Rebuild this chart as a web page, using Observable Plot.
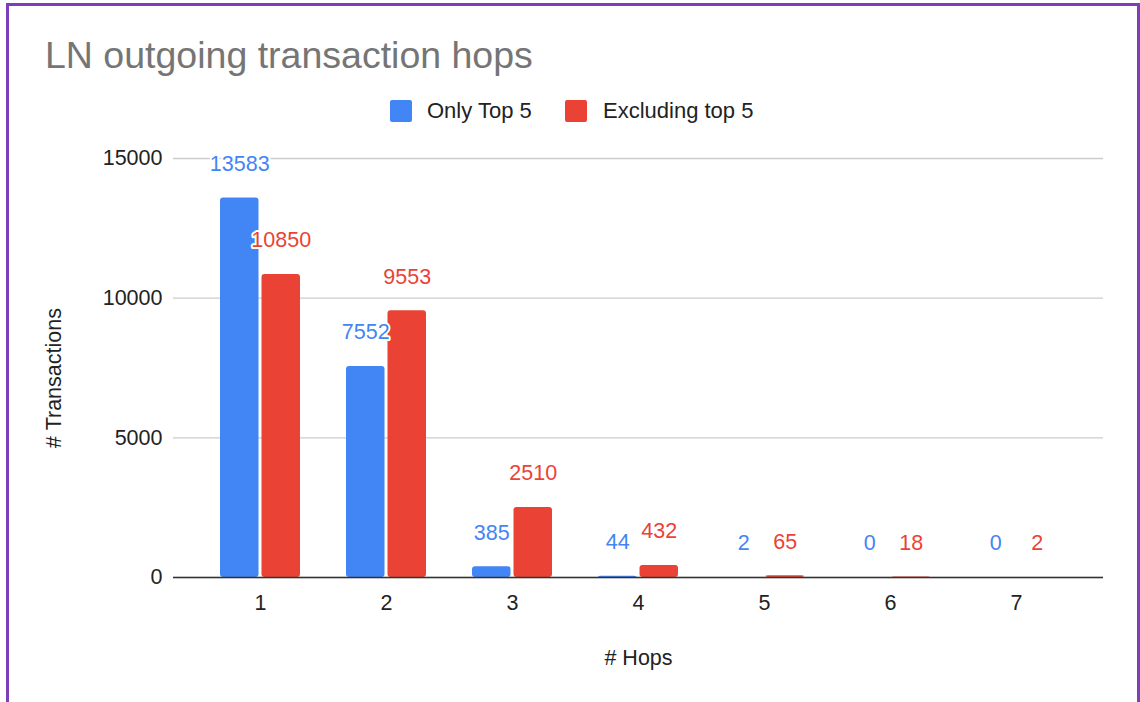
<!DOCTYPE html>
<html><head><meta charset="utf-8">
<script src="https://cdn.jsdelivr.net/npm/d3@7"></script>
<script src="https://cdn.jsdelivr.net/npm/@observablehq/plot@0.6"></script>
<style>
body{margin:0;background:#fff;font-family:"Liberation Sans",Arial,sans-serif;}
#wrap{position:relative;width:1140px;height:702px;overflow:hidden;background:#fff;}
#border{position:absolute;left:6px;top:3px;width:1128px;height:800px;border:3px solid #7c3fb8;box-sizing:content-box;}
#title{position:absolute;left:45px;top:37px;font-size:37.5px;line-height:37.5px;color:#757575;white-space:nowrap;}
.sw{position:absolute;top:100px;width:22px;height:22px;border-radius:2px;}
.lt{position:absolute;top:100px;height:22px;line-height:22px;font-size:22px;color:#222;white-space:nowrap;}
#chart{position:absolute;left:0;top:135px;}
</style>
</head><body>
<div id="wrap">
  <div id="border"></div>
  <div id="title"></div>
  <div id="legend"></div>
  <div id="chart"></div>
</div>
<script>
const chartTitle = "LN outgoing transaction hops";
const hops = ["1","2","3","4","5","6","7"];
const onlyTop5 = [13583, 7552, 385, 44, 2, 0, 0];
const excludingTop5 = [10850, 9553, 2510, 432, 65, 18, 2];
const seriesNames = ["Only Top 5", "Excluding top 5"];
const seriesColors = ["#4285F4", "#EA4335"];
const yTicks = [0, 5000, 10000, 15000];
const xLabel = "# Hops";
const yLabel = "# Transactions";

document.getElementById("title").textContent = chartTitle;
const legend = document.getElementById("legend");
const legendPos = [[390, 427], [565, 603]];
seriesNames.forEach((n, i) => {
  const s = document.createElement("div");
  s.className = "sw"; s.style.left = legendPos[i][0] + "px"; s.style.background = seriesColors[i];
  const t = document.createElement("div");
  t.className = "lt"; t.style.left = legendPos[i][1] + "px"; t.textContent = n;
  legend.appendChild(s); legend.appendChild(t);
});

const blueRows = hops.map((h, i) => ({hop: h, value: onlyTop5[i]}));
const redRows = hops.map((h, i) => ({hop: h, value: excludingTop5[i]}));

const plot = Plot.plot({
  width: 1140,
  height: 567,
  marginTop: 23,
  marginBottom: 125,
  marginLeft: 173,
  marginRight: 37,
  style: {fontFamily: "'Liberation Sans', Arial, sans-serif", fontSize: "21.5px", color: "#222", background: "transparent"},
  x: {type: "band", domain: hops, paddingInner: 0.367, paddingOuter: 0.364, label: null},
  y: {domain: [0, 15000], label: null},
  marks: [
    Plot.gridY(yTicks, {stroke: "#cccccc", strokeOpacity: 1, strokeWidth: 1.3}),
    Plot.axisY(yTicks, {tickSize: 0, tickPadding: 11, label: null, fill: "#222", tickFormat: d3.format("d")}),
    Plot.axisX({tickSize: 0, tickPadding: 17, label: null, fill: "#222"}),
    Plot.barY(blueRows, {x: "hop", y: "value", fill: seriesColors[0], insetRight: 41.5, rx: 3}),
    Plot.barY(redRows, {x: "hop", y: "value", fill: seriesColors[1], insetLeft: 41.5, rx: 3}),
    Plot.ruleY([0], {stroke: "#333", strokeWidth: 1.5}),
    Plot.text(blueRows, {x: "hop", y: "value", text: d => String(d.value), dx: -20.75, dy: -34, fill: seriesColors[0], stroke: "white", strokeWidth: 4, paintOrder: "stroke", fontSize: 21.5}),
    Plot.text(redRows, {x: "hop", y: "value", text: d => String(d.value), dx: 20.75, dy: -34, fill: seriesColors[1], stroke: "white", strokeWidth: 4, paintOrder: "stroke", fontSize: 21.5}),
    Plot.text([xLabel], {frameAnchor: "bottom", dy: 81, lineAnchor: "middle", textAnchor: "middle", fill: "#222", fontSize: 21.5}),
    Plot.text([yLabel], {frameAnchor: "left", dx: -119, dy: 10, rotate: -90, textAnchor: "middle", lineAnchor: "middle", fill: "#222", fontSize: 21.5})
  ]
});
document.getElementById("chart").appendChild(plot);
</script>
</body></html>
